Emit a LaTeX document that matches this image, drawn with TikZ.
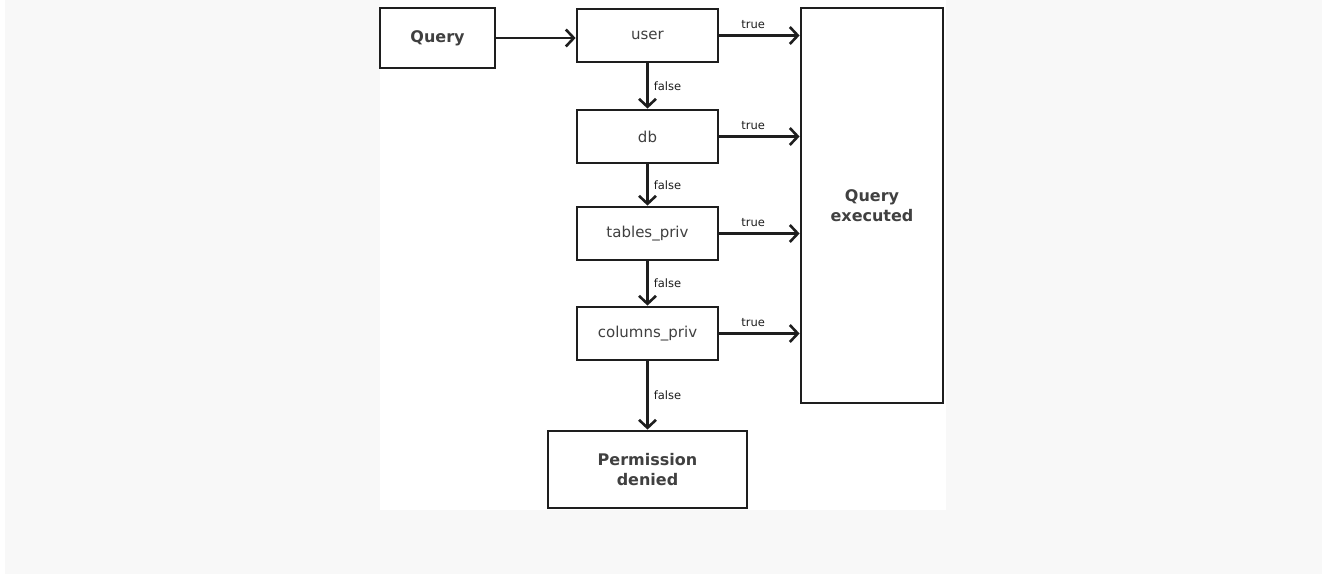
\documentclass[tikz,border=0pt]{standalone}
\usepackage{fontspec}
\setmainfont{DejaVu Sans}
\usetikzlibrary{arrows.meta}
\definecolor{bggray}{HTML}{F8F8F8}
\definecolor{ink}{HTML}{1E1E1E}
\begin{document}
\begin{tikzpicture}[x=1pt,y=-1pt,
  box/.style={draw=ink,line width=2.8pt,fill=white,inner sep=0pt,align=center,text=ink!85,
    font=\fontsize{15}{18}\selectfont},
  boldbox/.style={box,font=\fontsize{16}{20}\selectfont\bfseries},
  flow/.style={draw=ink,line width=2.6pt,-{Straight Barb[length=8pt,width=17pt,line width=2.6pt]}},
  lbl/.style={font=\fontsize{11.5}{13}\selectfont,text=ink,inner sep=1pt}]
\useasboundingbox (0,0) rectangle (1322,574);
\fill[white] (0,0) rectangle (1322,574);
\fill[bggray] (5,0) rectangle (1322,574);
\fill[white] (380,0) rectangle (946,510);
\node[boldbox,minimum width=115pt,minimum height=60pt] (query) at (437.5,38) {Query};
\node[box,minimum width=141pt,minimum height=53pt] (user) at (647.5,35.5) {user};
\node[box,minimum width=141pt,minimum height=53pt] (db) at (647.5,136.5) {db};
\node[box,minimum width=141pt,minimum height=53pt] (tables) at (647.5,233.5) {tables\_priv};
\node[box,minimum width=141pt,minimum height=53pt] (columns) at (647.5,333.5) {columns\_priv};
\node[boldbox,minimum width=142pt,minimum height=395pt] (exec) at (872,205.5) {Query\\executed};
\node[boldbox,minimum width=199pt,minimum height=77pt] (denied) at (647.5,469.5) {Permission\\denied};
\draw[flow] (query.east) -- (query.east -| user.west);
\draw[flow] (user.east) -- node[lbl,pos=0.42,above=5pt] {true} (user.east -| exec.west);
\draw[flow] (db.east) -- node[lbl,pos=0.42,above=5pt] {true} (db.east -| exec.west);
\draw[flow] (tables.east) -- node[lbl,pos=0.42,above=5pt] {true} (tables.east -| exec.west);
\draw[flow] (columns.east) -- node[lbl,pos=0.42,above=5pt] {true} (columns.east -| exec.west);
\draw[flow] (user.south) -- node[lbl,right=4pt] {false} (db.north);
\draw[flow] (db.south) -- node[lbl,right=4pt] {false} (tables.north);
\draw[flow] (tables.south) -- node[lbl,right=4pt] {false} (columns.north);
\draw[flow] (columns.south) -- node[lbl,right=4pt] {false} (denied.north);
\end{tikzpicture}
\end{document}
